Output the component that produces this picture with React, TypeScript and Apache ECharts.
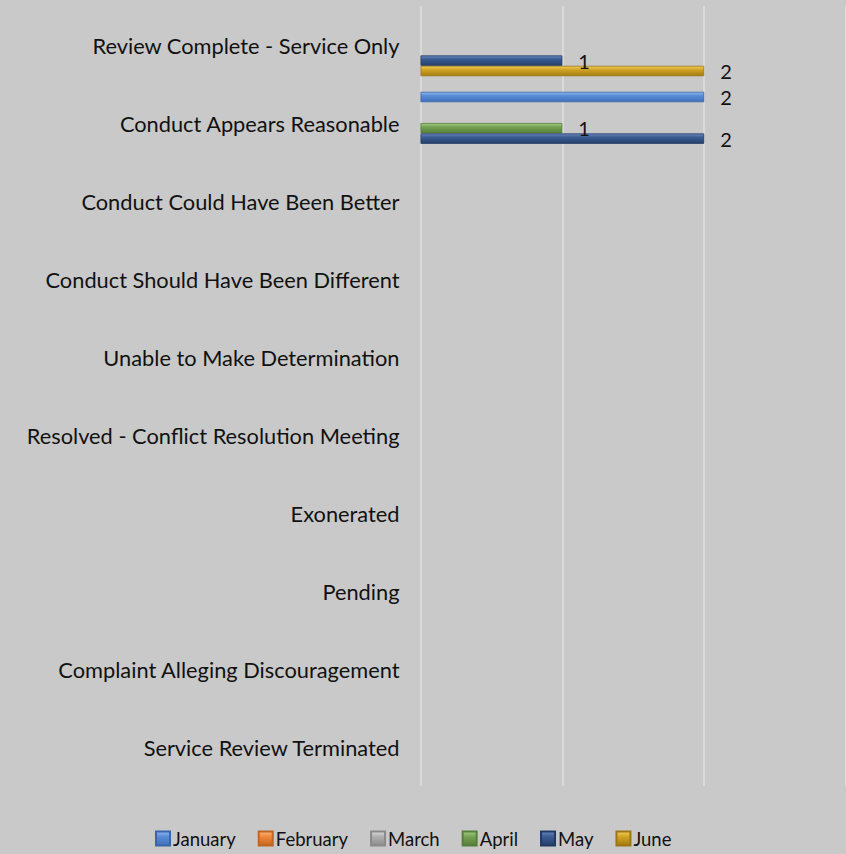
import React, { useEffect, useRef } from "react";
import * as echarts from "echarts";

const categories = [
  "Review Complete - Service Only",
  "Conduct Appears Reasonable",
  "Conduct Could Have Been Better",
  "Conduct Should Have Been Different",
  "Unable to Make Determination",
  "Resolved - Conflict Resolution Meeting",
  "Exonerated",
  "Pending",
  "Complaint Alleging Discouragement",
  "Service Review Terminated",
];

const seriesNames = ["January", "February", "March", "April", "May", "June"];

const january = [null, 2, null, null, null, null, null, null, null, null];
const february = [null, null, null, null, null, null, null, null, null, null];
const march = [null, null, null, null, null, null, null, null, null, null];
const april = [null, 1, null, null, null, null, null, null, null, null];
const may = [1, 2, null, null, null, null, null, null, null, null];
const june = [2, null, null, null, null, null, null, null, null, null];

const seriesData = [january, february, march, april, may, june];

const xTicks = [0, 1, 2, 3];

const palette = [
  { top: "#8fb8f0", mid: "#5b8ed8", bot: "#3f6fb8", border: "#3a65a8" },
  { top: "#fbb47a", mid: "#f08a3a", bot: "#c8651c", border: "#c0651f" },
  { top: "#dcdcdc", mid: "#b0b0b0", bot: "#8c8c8c", border: "#8a8a8a" },
  { top: "#a8cc88", mid: "#76a455", bot: "#557f38", border: "#557f38" },
  { top: "#6a8ac0", mid: "#3b5c94", bot: "#263f6c", border: "#233a66" },
  { top: "#f0cf5a", mid: "#d3a526", bot: "#a27a10", border: "#9c7612" },
];

function grad(p: { top: string; mid: string; bot: string }) {
  return new echarts.graphic.LinearGradient(0, 0, 0, 1, [
    { offset: 0, color: p.top },
    { offset: 0.35, color: p.mid },
    { offset: 1, color: p.bot },
  ]);
}

export default function App() {
  const ref = useRef<HTMLDivElement>(null);
  useEffect(() => {
    if (!ref.current) return;
    const chart = echarts.init(ref.current, null, { renderer: "svg" });
    const font = "Lato, 'Open Sans', sans-serif";
    chart.setOption({
      animation: false,
      backgroundColor: "#c9c9c9",
      textStyle: { fontFamily: font },
      grid: { left: 420.5, right: 0, top: 6, bottom: 68, containLabel: false },
      legend: {
        bottom: 1,
        left: 150,
        itemWidth: 14,
        itemHeight: 14,
        itemGap: 22,
        icon: "rect",
        textStyle: { fontSize: 18.5, color: "#111", fontFamily: font, padding: [0, 0, 0, -2] },
        data: seriesNames,
      },
      xAxis: {
        type: "value",
        min: 0,
        max: xTicks[xTicks.length - 1],
        interval: 1,
        axisLabel: { show: false },
        axisLine: { show: false },
        axisTick: { show: false },
        splitLine: { show: true, lineStyle: { color: "#dadada", width: 2 } },
      },
      yAxis: {
        type: "category",
        inverse: true,
        data: categories,
        axisLine: { show: false },
        axisTick: { show: false },
        axisLabel: { fontSize: 21.8, color: "#111", margin: 21, fontFamily: font },
      },
      series: seriesNames.map((name, i) => ({
        name,
        type: "bar",
        data: seriesData[i],
        barGap: "0%",
        barCategoryGap: "20%",
        itemStyle: {
          color: grad(palette[i]),
          borderColor: palette[i].border,
          borderWidth: 0.8,
        },
        label: {
          show: true,
          position: "right",
          distance: 16,
          fontSize: 20,
          color: "#111",
          fontFamily: font,
        },
      })),
    });
    return () => chart.dispose();
  }, []);
  return <div ref={ref} style={{ width: 846, height: 854, position: "absolute", left: 0, top: 0 }} />;
}
